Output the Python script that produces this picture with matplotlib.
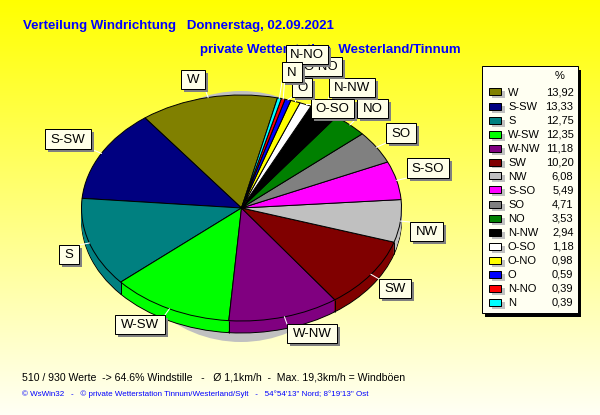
import numpy as np
import matplotlib
matplotlib.use("Agg")
import matplotlib.pyplot as plt
from matplotlib.patches import Rectangle, Ellipse

plt.rcParams['font.family'] = ['Liberation Sans', 'DejaVu Sans']
plt.rcParams['text.antialiased'] = True

categories = ['W','S-SW','S','W-SW','W-NW','SW','NW','S-SO','SO','NO','N-NW','O-SO','O-NO','O','N-NO','N']
values = [13.92,13.33,12.75,12.35,11.18,10.20,6.08,5.49,4.71,3.53,2.94,1.18,0.98,0.59,0.39,0.39]
value_labels = ['13,92','13,33','12,75','12,35','11,18','10,20','6,08','5,49','4,71','3,53','2,94','1,18','0,98','0,59','0,39','0,39']
colors = ['#808000','#000080','#008080','#00FF00','#800080','#800000','#C0C0C0','#FF00FF',
          '#808080','#008000','#000000','#FFFFFF','#FFFF00','#0000FF','#FF0000','#00FFFF']
label_boxes = [(181,70,205,89),(45,129,91,149),(59,245,79,264),(115,315,165,334),
               (287,324,337,343),(379,279,411,298),(410,222,443,241),(407,158,449,178),
               (386,123,416,143),(357,99,388,118),(329,78,375,97),(311,99,354,118),
               (300,57,342,76),(292,78,312,97),(286,45,328,64),(282,62,302,82)]

W, H = 600, 415
CX, CY, RX, RY, DEPTH, START = 241.5, 208.0, 160.0, 113.0, 12, 77.0

fig = plt.figure(figsize=(W/100, H/100), dpi=100)

bg = fig.add_axes([0, 0, 1, 1])
bg.set_xlim(0, W); bg.set_ylim(H, 0); bg.axis('off')
grad = np.zeros((256, 1, 3))
t = np.linspace(0, 1, 256)
grad[:, 0, 0] = 1; grad[:, 0, 1] = 1; grad[:, 0, 2] = t * 0.96
bg.imshow(grad, extent=(0, W, H, 0), aspect='auto', interpolation='bilinear')
bg.set_xlim(0, W); bg.set_ylim(H, 0)
bg.add_patch(Ellipse((241, 216.5), 250, 251, fc='#C0C0C0', ec='none'))
bluec = '#0000FF'
bg.text(23, 25.5, 'Verteilung Windrichtung   Donnerstag, 02.09.2021', color=bluec, fontsize=9.5,
        fontweight='bold', va='center')
bg.text(200, 49.5, 'private Wetterstation  Westerland/Tinnum', color=bluec, fontsize=9.5,
        fontweight='bold', va='center')
bg.text(22, 377, '510 / 930 Werte  -> 64.6% Windstille   -   Ø 1,1km/h  -  Max. 19,3km/h = Windböen',
        color='black', fontsize=7.6, va='center')
bg.text(22, 394, '© WsWin32   -   © private Wetterstation Tinnum/Westerland/Sylt   -   54°54\'13" Nord; 8°19\'13" Ost',
        color=bluec, fontsize=5.75, va='center')

ax = fig.add_axes([0, 0, 1, 1])
ax.patch.set_visible(False)
lw = 0.7
for d in range(DEPTH, -1, -1):
    edge = d in (0, DEPTH)
    wp = dict(linewidth=lw if edge else 0, edgecolor='black' if edge else 'none')
    ax.pie(values, colors=colors, startangle=START, center=(0, -d / RY), radius=1.0,
           wedgeprops=wp, normalize=True)
ax.set_aspect('auto')
ax.set_xlim((0 - CX) / RX, (W - CX) / RX)
ax.set_ylim(-(H - CY) / RY, CY / RY)
ax.axis('off')

vals = np.array(values, dtype=float)
bounds = START + 360 * np.concatenate([[0], np.cumsum(vals)]) / vals.sum()
for b in np.radians(bounds):
    if np.sin(b) < 0:
        x = np.cos(b)
        y = np.sin(b)
        ax.plot([x, x], [y, y - DEPTH / RY], color='black', lw=lw, solid_capstyle='butt')

ov = fig.add_axes([0, 0, 1, 1])
ov.patch.set_visible(False)
ov.set_xlim(0, W); ov.set_ylim(H, 0); ov.axis('off')

mids = np.radians((bounds[:-1] + bounds[1:]) / 2)
for i, (cat, box) in enumerate(zip(categories, label_boxes)):
    l, t_, r, b = box
    px = CX + RX * np.cos(mids[i])
    py = CY - RY * np.sin(mids[i])
    qx = min(max(px, l), r)
    qy = min(max(py, t_), b)
    ov.plot([px, qx], [py, qy], color='white', lw=0.75, zorder=2 + i * 0.01)
for i, (cat, box) in enumerate(zip(categories, label_boxes)):
    l, t_, r, b = box
    z = 3 + i
    ov.add_patch(Rectangle((l + 3, t_ + 3), r - l, b - t_, fc='#808080', ec='none', zorder=z, snap=True))
    ov.add_patch(Rectangle((l, t_), r - l, b - t_, fc='#FFFFE8', ec='black', lw=0.72, zorder=z, snap=True))
    ov.text((l + r) / 2, (t_ + b) / 2 + 0.5, cat, color='black', fontsize=9.5, ha='center', va='center', zorder=z)

LZ = 30
ov.add_patch(Rectangle((485, 70), 96, 246.5, fc='black', ec='none', zorder=LZ, snap=True))
ov.add_patch(Rectangle((481.5, 66.5), 96, 246.5, fc='#FFFFF2', ec='black', lw=0.72, zorder=LZ, snap=True))
ov.text(560, 76, '%', fontsize=8, ha='center', va='center', zorder=LZ)
for i, (cat, col, lab) in enumerate(zip(categories, colors, value_labels)):
    y = 92 + 14 * i
    ov.add_patch(Rectangle((491.5, y - 0.5), 13, 7, fc='#C0C0C0', ec='none', zorder=LZ, snap=True))
    ov.add_patch(Rectangle((488.5, y - 3.5), 12, 7, fc=col, ec='black', lw=0.72, zorder=LZ, snap=True))
    ov.text(508, y + 0.5, cat, fontsize=8, va='center', zorder=LZ)
    ov.text(573.5, y + 0.5, lab, fontsize=8, ha='right', va='center', zorder=LZ)

fig.savefig('out.png', dpi=100)
